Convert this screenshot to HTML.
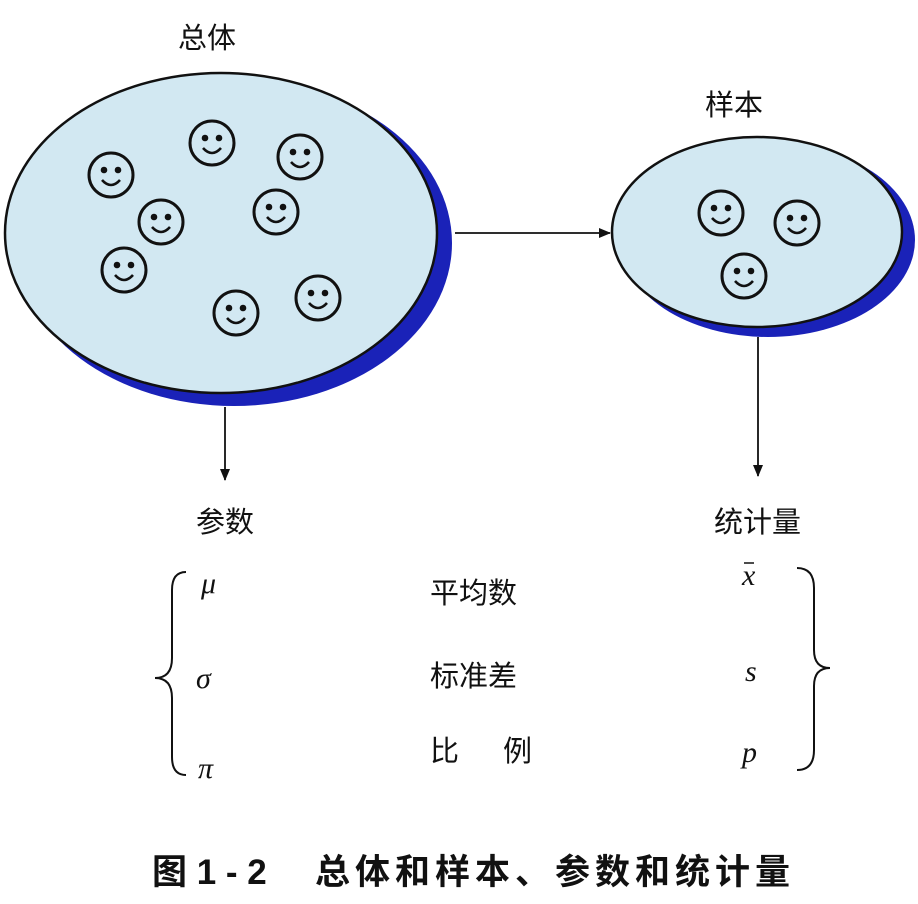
<!DOCTYPE html>
<html><head><meta charset="utf-8"><style>
body{margin:0;background:#fff;}
</style></head><body>
<svg width="918" height="904" xmlns="http://www.w3.org/2000/svg" style="display:block">
<defs>
<g id="sm"><circle r="22" fill="none" stroke="#111" stroke-width="3"/><circle cx="-7" cy="-5" r="3.3" fill="#111"/><circle cx="7" cy="-5" r="3.3" fill="#111"/><path d="M-9 5 Q0 15 9 5" fill="none" stroke="#111" stroke-width="2.6"/></g>
<marker id="ah" markerWidth="12" markerHeight="10" refX="11" refY="5" orient="auto" markerUnits="userSpaceOnUse"><path d="M0 0 L12 5 L0 10 Z" fill="#111"/></marker>
</defs>
<ellipse cx="234" cy="243" rx="218" ry="163" fill="#1a22b8"/>
<ellipse cx="221" cy="233" rx="216" ry="160" fill="#d2e8f2" stroke="#111" stroke-width="2.5"/>
<use href="#sm" x="111" y="175"/><use href="#sm" x="212" y="143"/><use href="#sm" x="300" y="157"/>
<use href="#sm" x="161" y="222"/><use href="#sm" x="276" y="212"/><use href="#sm" x="124" y="270"/>
<use href="#sm" x="236" y="313"/><use href="#sm" x="318" y="298"/>
<ellipse cx="768" cy="240" rx="147" ry="97" fill="#1a22b8"/>
<ellipse cx="757" cy="232" rx="145" ry="95" fill="#d2e8f2" stroke="#111" stroke-width="2.5"/>
<use href="#sm" x="721" y="213"/><use href="#sm" x="797" y="223"/><use href="#sm" x="744" y="276"/>
<line x1="455" y1="233" x2="610" y2="233" stroke="#111" stroke-width="1.8" marker-end="url(#ah)"/>
<line x1="225" y1="407" x2="225" y2="480" stroke="#111" stroke-width="1.8" marker-end="url(#ah)"/>
<line x1="758" y1="337" x2="758" y2="476" stroke="#111" stroke-width="1.8" marker-end="url(#ah)"/>
<g font-family="Liberation Sans, Noto Sans CJK SC, sans-serif" font-size="29" fill="#111">
<text x="178" y="48">总体</text>
<text x="705" y="115">样本</text>
<text x="196" y="532">参数</text>
<text x="714" y="532">统计量</text>
<text x="430" y="603">平均数</text>
<text x="430" y="686">标准差</text>
<text x="430" y="761">比</text><text x="503" y="761">例</text>
</g>
<g font-family="Liberation Serif, serif" font-style="italic" font-size="30" fill="#111">
<text x="201" y="593">μ</text>
<text x="196" y="688">σ</text>
<text x="198" y="778">π</text>
<text x="742" y="585">x</text>
<text x="745" y="681">s</text>
<text x="742" y="762">p</text>
</g>
<line x1="744" y1="563" x2="754" y2="563" stroke="#111" stroke-width="1.5"/>
<path d="M186 572 Q172 572 172 590 L172 658 Q172 678 155 678 Q172 678 172 698 L172 757 Q172 775 186 775" fill="none" stroke="#111" stroke-width="2"/>
<path d="M797 568 Q814 568 814 588 L814 650 Q814 668 830 668 Q814 668 814 686 L814 750 Q814 770 797 770" fill="none" stroke="#111" stroke-width="2"/>
<text x="152" y="884" font-family="Liberation Sans, Noto Sans CJK SC, sans-serif" font-size="35" font-weight="bold" fill="#111">图 1 - 2</text>
<text x="315" y="884" font-family="Liberation Sans, Noto Sans CJK SC, sans-serif" font-size="35" font-weight="bold" letter-spacing="5" fill="#111">总体和样本、参数和统计量</text>
</svg>
</body></html>
